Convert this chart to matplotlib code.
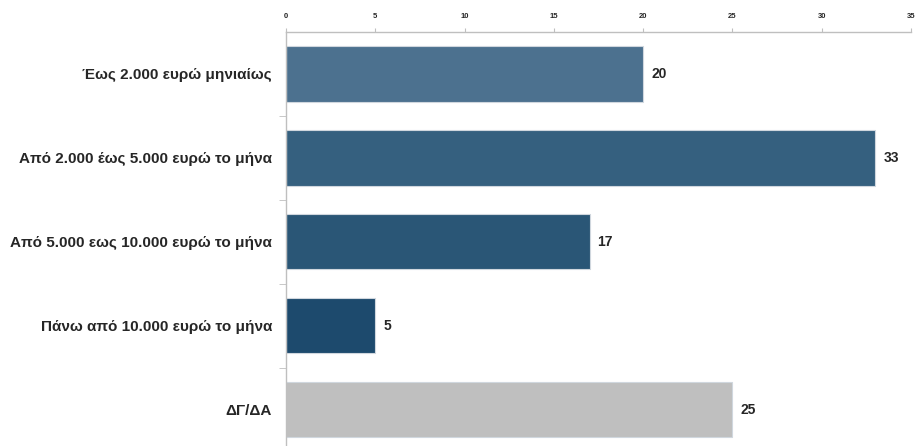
import numpy as np
import matplotlib.pyplot as plt

# Data
categories = [
    "Έως 2.000 ευρώ μηνιαίως",
    "Από 2.000 έως 5.000 ευρώ το μήνα",
    "Από 5.000 εως 10.000 ευρώ το μήνα",
    "Πάνω από 10.000 ευρώ το μήνα",
    "ΔΓ/ΔΑ",
]
values = [20, 33, 17, 5, 25]
colors = ["#4c718f", "#35607f", "#2a5676", "#1d4a6d", "#bfbfbf"]
xticks = [0, 5, 10, 15, 20, 25, 30, 35]

plt.rcParams['font.family'] = ['Liberation Sans Narrow', 'Liberation Sans', 'DejaVu Sans']

fig = plt.figure(figsize=(9.21, 4.46), dpi=100)
ax = fig.add_axes([286 / 921, 1 - 451.5 / 446, (911 - 286) / 921, (451.5 - 32) / 446])

y = np.arange(len(categories))
ax.barh(y, values, height=0.66, color=colors, edgecolor="#d0d7de", linewidth=0.8)

for yi, v in zip(y, values):
    ax.text(v + 0.45, yi, str(v), va="center", ha="left",
            fontsize=10, fontweight="bold", color="#262626")

ax.set_xlim(0, 35)
ax.set_ylim(len(categories) - 0.5, -0.5)
ax.set_yticks(y)
ax.set_yticklabels(categories, fontsize=11, fontweight="bold", color="#262626")
ax.set_yticks(np.arange(0.5, len(categories) - 1, 1), minor=True)
ax.tick_params(axis="y", which="major", length=0, pad=10)
ax.tick_params(axis="y", which="minor", length=5, color="#bfbfbf", direction="out")

ax.xaxis.tick_top()
ax.set_xticks(xticks)
ax.set_xticklabels([str(t) for t in xticks], fontsize=5.5, fontweight="bold", color="#262626")
ax.tick_params(axis="x", length=3, color="#bfbfbf", pad=6)

for side in ["right", "bottom"]:
    ax.spines[side].set_visible(False)
for side in ["top", "left"]:
    ax.spines[side].set_color("#bfbfbf")
    ax.spines[side].set_linewidth(1.0)

fig.savefig("out.png", dpi=100)
